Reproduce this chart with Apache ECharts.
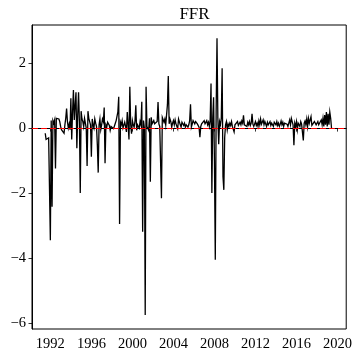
<!DOCTYPE html>
<html><head><meta charset="utf-8">
<script src="https://cdn.jsdelivr.net/npm/echarts@6/dist/echarts.min.js"></script>
<style>html,body{margin:0;padding:0;background:#fff}#c{width:355px;height:353px}</style>
</head><body><div id="c"></div>
<script>
// Monthly FFR series, starting July 1991
const startYear = 1991;
const startMonth = 7;
const ffrValues = [
  // 1991 Jul-Dec
  -0.16,-0.35,-0.3,-0.35,-0.3,-0.32,
  // 1992
  -3.45,0.23,-2.42,0.23,0.15,0.25,-1.24,0.3,0.32,0.28,0.28,0.2,
  // 1993
  0.05,-0.05,-0.1,0.0,-0.16,0.1,0.3,0.6,0.2,0.0,0.12,-0.05,
  // 1994
  0.92,-0.35,0.5,1.17,0.25,0.7,1.1,-0.62,0.4,1.1,0.2,-2.0,
  // 1995
  0.52,0.28,0.2,0.05,0.3,0.3,0.0,-1.17,0.52,0.3,0.2,0.1,
  // 1996
  -0.88,0.28,0.1,0.0,0.28,0.15,0.05,-0.53,-1.37,0.1,0.28,-0.05,
  // 1997
  0.1,0.28,0.2,0.63,-1.08,0.1,0.03,0.18,0.12,0.08,-0.07,0.05,
  // 1998
  0.03,0.1,-0.02,-0.07,0.15,0.23,0.28,0.5,0.96,-2.95,0.18,0.1,
  // 1999
  0.23,0.0,0.03,0.18,0.05,-0.12,0.49,0.1,-0.35,1.27,0.1,-0.17,
  // 2000
  0.23,0.1,0.03,0.2,0.7,-0.07,0.1,0.15,0.0,0.2,0.1,0.81,
  // 2001
  -3.19,0.23,0.0,-5.75,1.27,0.05,0.03,-0.07,0.3,-1.65,0.33,0.13,
  // 2002
  0.13,0.23,0.13,0.18,0.1,0.2,0.8,0.13,0.05,0.1,-2.16,0.33,
  // 2003
  0.33,0.18,0.28,0.1,0.1,0.72,1.6,0.13,0.28,0.2,0.03,0.15,
  // 2004
  0.23,0.1,0.25,0.13,0.08,-0.02,0.28,0.23,0.1,0.03,0.18,0.13,
  // 2005
  0.08,0.15,0.03,0.1,0.08,0.03,0.1,0.23,0.73,0.03,0.12,0.23,
  // 2006
  0.23,0.13,0.2,0.18,0.13,0.1,0.03,-0.28,0.05,0.13,0.1,0.18,
  // 2007
  0.23,0.13,0.15,0.23,0.1,0.18,0.05,0.23,1.37,-2.0,0.3,0.95,
  // 2008
  -1.0,-4.05,0.5,2.76,0.3,-0.5,0.2,0.1,0.3,1.84,-1.5,-1.9,
  // 2009
  -0.28,0.1,0.2,-0.05,0.12,0.05,0.15,0.08,0.2,0.05,0.1,-0.12,
  // 2010
  0.1,0.05,0.15,0.2,0.08,0.12,0.18,0.1,0.22,0.15,0.39,0.1,
  // 2011
  0.15,0.12,0.05,0.18,0.1,0.2,0.08,0.15,0.44,0.12,0.05,0.1,
  // 2012
  0.2,0.08,0.15,0.05,0.22,0.1,0.28,0.12,0.18,0.25,0.1,0.2,
  // 2013
  0.15,0.05,0.18,0.1,0.12,0.2,0.08,0.15,0.1,0.05,0.18,0.12,
  // 2014
  0.1,0.2,0.08,0.15,0.05,0.12,0.22,0.1,0.18,0.05,0.15,0.1,
  // 2015
  0.2,0.12,0.05,0.15,0.25,0.1,0.3,0.2,0.1,-0.53,0.15,0.05,
  // 2016
  0.2,-0.05,0.15,0.1,0.05,0.2,0.12,0.1,-0.38,0.15,0.22,0.1,
  // 2017
  0.28,0.05,0.3,0.15,0.1,0.35,0.08,0.12,0.1,0.2,0.15,0.1,
  // 2018
  0.12,0.2,0.1,0.08,0.15,0.25,0.1,0.3,0.05,0.4,0.1,0.49,
  // 2019 Jan-Jun
  0.05,0.44,0.1,0.49,0.3,0.0
];
const xTickYears = [1992,1996,2000,2004,2008,2012,2016,2020];
const yTickValues = [-6,-4,-2,0,2];
const xRange = [1990.21, 2020.85];
const yRange = [-6.18, 3.17];

const seriesData = ffrValues.map((v, i) => [startYear + (startMonth - 1 + i) / 12, v]);

const chart = echarts.init(document.getElementById('c'), null, {renderer: 'canvas'});
const font = '"Liberation Serif", "DejaVu Serif", serif';
chart.setOption({
  animation: false,
  backgroundColor: '#fff',
  title: {
    text: 'FFR', left: 189.5, top: 1, textAlign: 'center',
    textStyle: {fontFamily: font, fontSize: 17, fontWeight: 'normal', color: '#000'}
  },
  grid: {left: 32, right: 8, top: 25, bottom: 24, show: true, borderColor: '#000', borderWidth: 1, backgroundColor: 'transparent'},
  xAxis: {
    type: 'value', min: xRange[0], max: xRange[1],
    axisLine: {show: true, lineStyle: {color: '#000', width: 1}},
    axisTick: {show: true, length: 3.5, inside: false, lineStyle: {color: '#000', width: 0.8}, customValues: xTickYears},
    axisLabel: {customValues: xTickYears, margin: 8, fontFamily: font, fontSize: 14.5, color: '#000', formatter: v => String(Math.round(v))},
    splitLine: {show: false}
  },
  yAxis: {
    type: 'value', min: yRange[0], max: yRange[1],
    axisLine: {show: true, lineStyle: {color: '#000', width: 1}},
    axisTick: {show: true, length: 3.5, inside: false, lineStyle: {color: '#000', width: 0.8}, customValues: yTickValues},
    axisLabel: {customValues: yTickValues, margin: 6, fontFamily: font, fontSize: 14.5, color: '#000', formatter: v => String(Math.round(v)).replace('-', '\u2212')},
    splitLine: {show: false}
  },
  series: [{
    type: 'line', data: seriesData, symbol: 'none', z: 3,
    lineStyle: {color: '#000', width: 1.3, join: 'miter'},
    markLine: {
      silent: true, symbol: 'none', label: {show: false}, z: 4,
      lineStyle: {color: '#ff0000', type: [6, 3], width: 1.2},
      data: [{yAxis: 0}]
    }
  }]
});
</script></body></html>
